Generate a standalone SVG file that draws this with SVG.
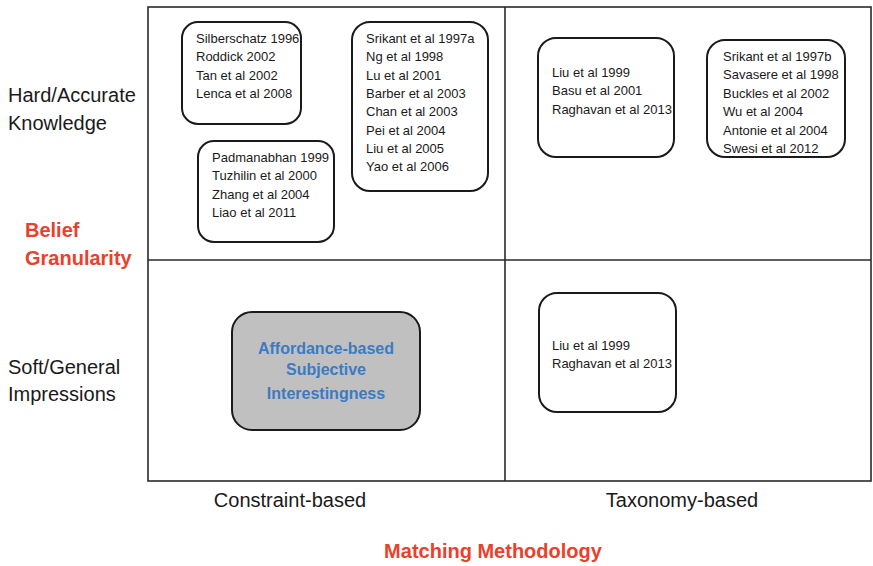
<svg xmlns="http://www.w3.org/2000/svg" width="873" height="566" viewBox="0 0 873 566">
<style>
.bg{fill:#ffffff}
.grid{fill:none;stroke:#2a2a2a;stroke-width:1.6}
.box{fill:#ffffff;stroke:#1a1a1a;stroke-width:2}
.gray{fill:#c0c0c0;stroke:#1a1a1a;stroke-width:2}
.ref{font-family:"Liberation Sans",Arial,sans-serif;font-size:13px;fill:#1a1a1a}
.lab{font-family:"Liberation Sans",Arial,sans-serif;font-size:20px;fill:#1a1a1a}
.red{font-family:"Liberation Sans",Arial,sans-serif;font-size:20px;font-weight:bold;fill:#e8412c}
.blue{font-family:"Liberation Sans",Arial,sans-serif;font-size:16px;font-weight:bold;fill:#3b7bc4;text-anchor:middle}
</style>
<rect class="bg" x="0" y="0" width="873" height="566"/>
<g id="grid">
<rect class="grid" x="148" y="7" width="723" height="474"/>
<line class="grid" x1="505" y1="7" x2="505" y2="481"/>
<line class="grid" x1="148" y1="260" x2="871" y2="260"/>
</g>
<g id="axis-labels">
<text class="lab" x="8" y="102">Hard/Accurate</text>
<text class="lab" x="8" y="130">Knowledge</text>
<text class="red" x="25" y="237">Belief</text>
<text class="red" x="25" y="265">Granularity</text>
<text class="lab" x="8" y="374">Soft/General</text>
<text class="lab" x="8" y="401">Impressions</text>
<text class="lab" x="290" y="507" text-anchor="middle">Constraint-based</text>
<text class="lab" x="682" y="507" text-anchor="middle">Taxonomy-based</text>
<text class="red" x="493" y="558" text-anchor="middle">Matching Methodology</text>
</g>
<g id="node-a">
<rect class="box" x="182" y="22" width="119" height="102" rx="16"/>
<text class="ref" x="196" y="43">Silberschatz 1996</text>
<text class="ref" x="196" y="61.4">Roddick 2002</text>
<text class="ref" x="196" y="79.8">Tan et al 2002</text>
<text class="ref" x="196" y="98.2">Lenca et al 2008</text>
</g>
<g id="node-b">
<rect class="box" x="198" y="141" width="136" height="101" rx="16"/>
<text class="ref" x="212" y="162">Padmanabhan 1999</text>
<text class="ref" x="212" y="180.4">Tuzhilin et al 2000</text>
<text class="ref" x="212" y="198.8">Zhang et al 2004</text>
<text class="ref" x="212" y="217.2">Liao et al 2011</text>
</g>
<g id="node-c">
<rect class="box" x="352" y="22" width="136" height="169" rx="18"/>
<text class="ref" x="366" y="43">Srikant et al 1997a</text>
<text class="ref" x="366" y="61.3">Ng et al 1998</text>
<text class="ref" x="366" y="79.6">Lu et al 2001</text>
<text class="ref" x="366" y="97.9">Barber et al 2003</text>
<text class="ref" x="366" y="116.2">Chan et al 2003</text>
<text class="ref" x="366" y="134.5">Pei et al 2004</text>
<text class="ref" x="366" y="152.8">Liu et al 2005</text>
<text class="ref" x="366" y="171.1">Yao et al 2006</text>
</g>
<g id="node-d">
<rect class="box" x="538" y="38" width="136" height="119" rx="18"/>
<text class="ref" x="552" y="77">Liu et al 1999</text>
<text class="ref" x="552" y="95.4">Basu et al 2001</text>
<text class="ref" x="552" y="113.8">Raghavan et al 2013</text>
</g>
<g id="node-e">
<rect class="box" x="707" y="40" width="138" height="117" rx="18"/>
<text class="ref" x="723" y="61">Srikant et al 1997b</text>
<text class="ref" x="723" y="79.4">Savasere et al 1998</text>
<text class="ref" x="723" y="97.8">Buckles et al 2002</text>
<text class="ref" x="723" y="116.2">Wu et al 2004</text>
<text class="ref" x="723" y="134.6">Antonie et al 2004</text>
<text class="ref" x="723" y="153">Swesi et al 2012</text>
</g>
<g id="node-f">
<rect class="gray" x="232" y="312" width="188" height="118" rx="20"/>
<text class="blue" x="326" y="354">Affordance-based</text>
<text class="blue" x="326" y="375">Subjective</text>
<text class="blue" x="326" y="399">Interestingness</text>
</g>
<g id="node-g">
<rect class="box" x="539" y="293" width="137" height="119" rx="18"/>
<text class="ref" x="552" y="350">Liu et al 1999</text>
<text class="ref" x="552" y="368.4">Raghavan et al 2013</text>
</g>
</svg>
